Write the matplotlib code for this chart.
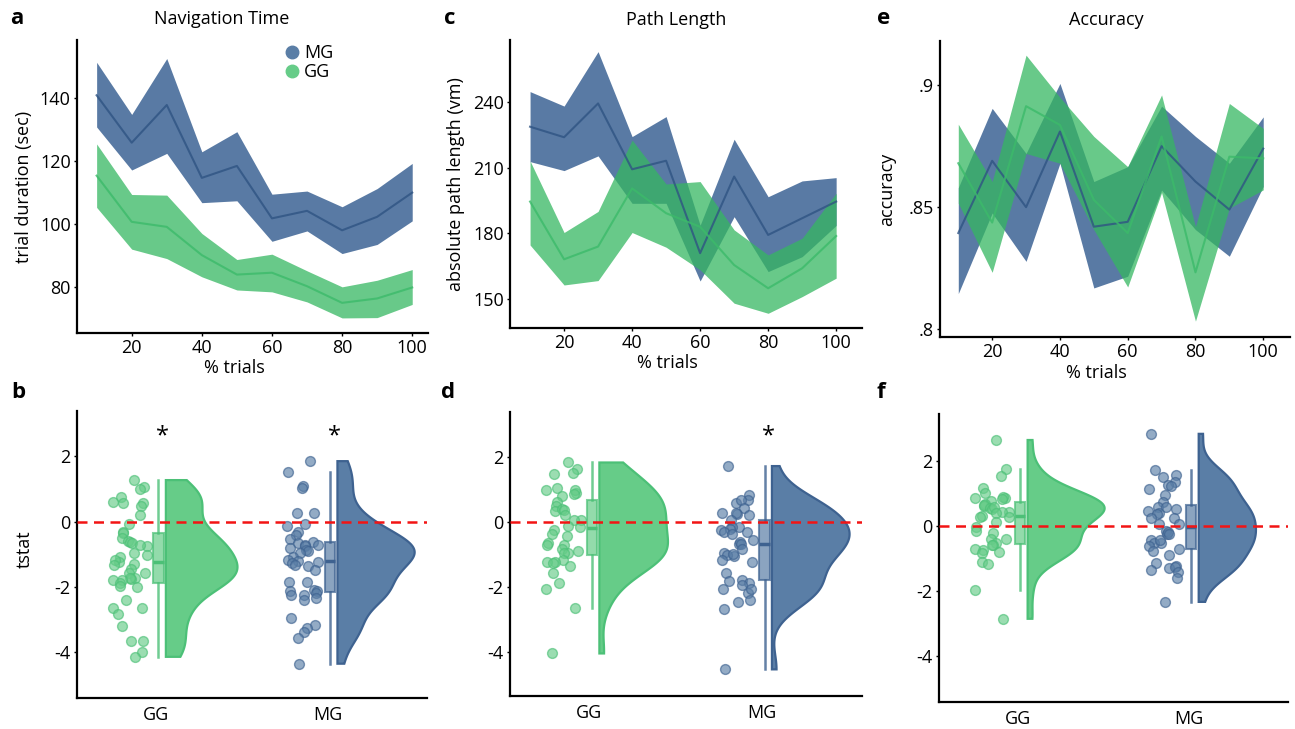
import numpy as np
import matplotlib.pyplot as plt
from matplotlib.lines import Line2D

plt.rcParams['font.family'] = ['Open Sans', 'DejaVu Sans']
plt.rcParams['axes.unicode_minus'] = False
plt.rcParams['font.size'] = 13

# ---- learning curves (mean and band edges) ----
trial_pct = [10, 20, 30, 40, 50, 60, 70, 80, 90, 100]

nav_mg_mean = [141, 125.9, 137.9, 114.7, 118.5, 101.8, 104.2, 98, 102.3, 110]
nav_mg_lo = [130.9, 117.2, 122.5, 106.8, 107.4, 94.5, 97.8, 90.6, 93.5, 101]
nav_mg_hi = [151.5, 134.9, 152.7, 123, 129.4, 109.5, 110.5, 105.5, 111.3, 119.3]
nav_gg_mean = [115.4, 100.7, 99.1, 90.1, 83.9, 84.5, 80.2, 74.9, 76.3, 79.8]
nav_gg_lo = [105.3, 92, 89, 83.2, 79, 78.4, 75.2, 70.1, 70.2, 74.4]
nav_gg_hi = [125.5, 109.4, 109.2, 97, 88.7, 90.4, 85.1, 80, 82.1, 85.5]

path_mg_mean = [228.6, 223.8, 239.2, 209.2, 213.1, 171, 205.9, 179.3, 186.9, 194.5]
path_mg_lo = [212.7, 208.6, 215.3, 193.7, 193.7, 158.3, 187.6, 162.6, 169.4, 183.6]
path_mg_hi = [244.6, 238, 262.8, 224.1, 233.2, 183.7, 222.9, 196.7, 203.9, 205.4]
path_gg_mean = [194.5, 168.2, 174, 200.5, 189.2, 183, 165.6, 155, 164.1, 178.8]
path_gg_lo = [174.7, 156.5, 158.5, 180.4, 173.7, 163.4, 148.2, 143.6, 151.2, 159.6]
path_gg_hi = [213, 180.4, 190, 222.5, 202.5, 203.6, 181.6, 170.2, 177.8, 198.3]

acc_mg_mean = [0.8394, 0.869, 0.85, 0.881, 0.842, 0.844, 0.875, 0.8605, 0.849, 0.874]
acc_mg_lo = [0.8146, 0.8476, 0.8278, 0.868, 0.8169, 0.8217, 0.857, 0.8408, 0.8299, 0.8585]
acc_mg_hi = [0.858, 0.8905, 0.872, 0.9007, 0.8605, 0.8666, 0.8914, 0.879, 0.868, 0.887]
acc_gg_mean = [0.868, 0.8437, 0.8914, 0.8837, 0.853, 0.8394, 0.879, 0.8233, 0.8707, 0.87]
acc_gg_lo = [0.8516, 0.8233, 0.872, 0.868, 0.8408, 0.8173, 0.856, 0.8033, 0.8496, 0.8571]
acc_gg_hi = [0.884, 0.8605, 0.9123, 0.895, 0.879, 0.8666, 0.896, 0.842, 0.8925, 0.8823]

# ---- per-subject t statistics ----
groups = ['GG', 'MG']

nav_gg_t = [1.27, 1.05, 0.99, 0.76, 0.58, 0.58, 0.61, 0.48, 0.2, -0.07, -0.31, -0.36,
            -0.49, -0.6, -0.64, -0.66, -0.74, -0.71, -0.97, -1.02, -1.09, -1.25, -1.29,
            -1.17, -1.32, -1.46, -1.58, -1.58, -1.73, -1.76, -1.73, -1.78, -1.78, -1.88,
            -1.99, -1.97, -2.41, -2.65, -2.65, -2.82, -3.21, -3.64, -3.64, -4.0, -4.14]
nav_mg_t = [1.85, 1.53, 1.09, 1.02, 0.25, 0.25, -0.07, -0.13, -0.33, -0.41, -0.53, -0.64,
            -0.66, -0.71, -0.73, -0.76, -0.87, -0.9, -0.81, -0.95, -1.07, -1.22, -1.19,
            -1.25, -1.27, -1.37, -1.32, -1.48, -1.85, -1.85, -2.09, -2.11, -2.19, -2.24,
            -2.14, -2.24, -2.34, -2.39, -2.95, -3.18, -3.26, -3.39, -3.56, -4.35]

path_gg_t = [1.83, 1.64, 1.51, 1.47, 1.03, 0.89, 0.99, 0.97, 0.87, 0.79, 0.62, 0.48,
             0.34, 0.41, 0.38, 0.21, 0.05, 0.07, -0.12, -0.15, -0.24, -0.36, -0.43, -0.64,
             -0.72, -0.72, -0.84, -0.9, -0.95, -0.95, -1.18, -1.23, -1.23, -1.26, -1.35,
             -1.57, -1.88, -2.08, -2.65, -4.05]
path_mg_t = [1.72, 0.82, 0.58, 0.69, 0.67, 0.43, 0.28, 0.24, 0.28, 0.21, 0.05, -0.15,
             -0.24, -0.15, -0.23, -0.31, -0.31, -0.38, -0.56, -0.67, -0.62, -0.69, -0.82,
             -0.95, -1.05, -1.03, -0.99, -1.18, -1.23, -1.57, -1.79, -1.82, -1.88, -1.95,
             -2.05, -2.18, -2.05, -2.41, -2.46, -2.67, -4.54]

acc_gg_t = [2.64, 1.74, 1.53, 1.15, 1.0, 0.87, 0.87, 0.89, 0.84, 0.77, 0.67, 0.61, 0.64,
            0.55, 0.53, 0.59, 0.43, 0.43, 0.38, 0.28, 0.3, 0.28, 0.12, -0.03, -0.15,
            -0.22, -0.42, -0.42, -0.52, -0.6, -0.6, -0.75, -0.7, -0.83, -0.8, -1.11,
            -1.18, -1.96, -2.86]
acc_mg_t = [2.83, 1.72, 1.56, 1.51, 1.36, 1.27, 1.22, 1.13, 0.95, 0.74, 0.53, 0.57, 0.59,
            0.46, 0.38, 0.36, 0.23, 0.23, 0.07, 0.07, -0.15, -0.26, -0.18, -0.24, -0.44,
            -0.54, -0.54, -0.44, -0.62, -0.7, -0.78, -0.9, -1.14, -1.24, -1.29, -1.35,
            -1.28, -1.42, -1.62, -2.34]

# ---- colours ----
MG_BAND = '#30598d'
GG_BAND = '#35b761'
MG_LINE = '#2f5483'
GG_LINE = '#3cba6a'
MG_FILL = '#5a7ea6'
GG_FILL = '#66cc88'
MG_EDGE = '#3e6290'
GG_EDGE = '#4cc077'

FIG_W, FIG_H = 1295, 729


def px_rect(x0, y0, x1, y1):
    return [x0 / FIG_W, 1 - y1 / FIG_H, (x1 - x0) / FIG_W, (y1 - y0) / FIG_H]


def style_axes(ax):
    for side in ['top', 'right']:
        ax.spines[side].set_visible(False)
    for side in ['left', 'bottom']:
        ax.spines[side].set_linewidth(1.6)
    ax.tick_params(length=2.5, width=1, labelsize=13, pad=2)


def curve_panel(ax, mg, gg, ylim, yticks, yticklabels, xlim, title, title_x, ylabel):
    ax.fill_between(trial_pct, mg[1], mg[2], color=MG_BAND, alpha=0.8, lw=0)
    ax.plot(trial_pct, mg[0], color=MG_LINE, lw=1.5, alpha=0.8)
    ax.fill_between(trial_pct, gg[1], gg[2], color=GG_BAND, alpha=0.75, lw=0)
    ax.plot(trial_pct, gg[0], color=GG_LINE, lw=1.5, alpha=0.8)
    ax.set_xlim(*xlim)
    ax.set_ylim(*ylim)
    ax.set_xticks([20, 40, 60, 80, 100])
    ax.set_yticks(yticks)
    ax.set_yticklabels(yticklabels)
    style_axes(ax)
    ax.text(title_x, 1.07, title, transform=ax.transAxes, ha='center', va='center',
            fontsize=13)
    ax.set_xlabel('% trials', fontsize=13)
    ax.xaxis.set_label_coords(0.447, -0.09)
    ax.set_ylabel(ylabel, fontsize=13, va='center')
    ax.yaxis.set_label_coords(-0.152, 0.5)


def nrd0(v):
    sd = np.std(v, ddof=1)
    q75, q25 = np.percentile(v, [75, 25])
    return 0.9 * min(sd, (q75 - q25) / 1.34) * len(v) ** (-0.2)


def raincloud_panel(ax, gg_vals, mg_vals, ylim, stars):
    rng = np.random.default_rng(7)
    sets = [(gg_vals, GG_FILL, GG_EDGE), (mg_vals, MG_FILL, MG_EDGE)]

    curves = []
    for vals, _, _ in sets:
        v = np.asarray(vals)
        grid = np.linspace(v.min(), v.max(), 300)
        bw = nrd0(v)
        dens = np.exp(-0.5 * ((grid[:, None] - v[None, :]) / bw) ** 2).sum(axis=1)
        dens /= len(v) * bw * np.sqrt(2 * np.pi)
        curves.append((grid, dens))
    scale = 0.45 / max(d.max() for _, d in curves)

    for i, ((vals, fill, edge), (grid, dens)) in enumerate(zip(sets, curves)):
        v = np.asarray(vals)
        # rain
        jitter = rng.uniform(-0.1, 0.1, len(v))
        ax.scatter(i - 0.15 + jitter, v, s=50, facecolor=fill, edgecolor=edge,
                   alpha=0.65, lw=1, zorder=2)
        # box
        ax.boxplot([v], positions=[i + 0.015], widths=0.06, patch_artist=True,
                   showfliers=False, showcaps=False, whis=1.5, manage_ticks=False,
                   boxprops=dict(facecolor=fill, edgecolor=edge, lw=1.5, alpha=0.7),
                   whiskerprops=dict(color=edge, lw=1.8, alpha=0.8),
                   medianprops=dict(color=edge, lw=2.5), zorder=3)
        # cloud
        base = i + 0.058
        xs = np.concatenate([[base], base + dens * scale, [base]])
        ys = np.concatenate([[grid[0]], grid, [grid[-1]]])
        ax.fill(xs, ys, facecolor=fill, edgecolor=edge, lw=1.6, zorder=3)

    ax.axhline(0, color='#f21414', lw=1.8, ls=(0, (4, 2.6)), zorder=5)
    for i, s in enumerate(stars):
        if s:
            ax.text(i + 0.04, 2.62, '*', ha='center', va='center', fontsize=17)

    ax.set_ylim(*ylim)
    ax.set_xlim(-0.46, 1.58)
    ax.set_xticks([0, 1])
    ax.set_xticklabels(groups)
    ax.set_yticks([-4, -2, 0, 2])
    ax.set_yticklabels(['-4', '-2', '0', '2'])
    style_axes(ax)
    ax.tick_params(axis='x', length=0, pad=6)


fig = plt.figure(figsize=(FIG_W / 100, FIG_H / 100), dpi=100)

ax_a = fig.add_axes(px_rect(77, 40, 428, 333))
ax_c = fig.add_axes(px_rect(510, 40, 862, 328))
ax_e = fig.add_axes(px_rect(940, 41, 1290, 337))
ax_b = fig.add_axes(px_rect(77, 411, 427, 698))
ax_d = fig.add_axes(px_rect(510, 412, 862, 696))
ax_f = fig.add_axes(px_rect(939, 414, 1288, 702))

curve_panel(ax_a, (nav_mg_mean, nav_mg_lo, nav_mg_hi), (nav_gg_mean, nav_gg_lo, nav_gg_hi),
            (65.3, 158.6), [80, 100, 120, 140], ['80', '100', '120', '140'], (4.4, 104.5),
            'Navigation Time', 0.413, 'trial duration (sec)')
curve_panel(ax_c, (path_mg_mean, path_mg_lo, path_mg_hi),
            (path_gg_mean, path_gg_lo, path_gg_hi),
            (136.9, 268.1), [150, 180, 210, 240], ['150', '180', '210', '240'],
            (4.1, 107.6), 'Path Length', 0.472, 'absolute path length (vm)')
curve_panel(ax_e, (acc_mg_mean, acc_mg_lo, acc_mg_hi), (acc_gg_mean, acc_gg_lo, acc_gg_hi),
            (0.7968, 0.9181), [0.8, 0.85, 0.9], ['.8', '.85', '.9'], (4.6, 107.9),
            'Accuracy', 0.474, 'accuracy')

legend_handles = [
    Line2D([], [], ls='', marker='o', markersize=9, color=MG_FILL, label='MG'),
    Line2D([], [], ls='', marker='o', markersize=9, color=GG_FILL, label='GG'),
]
ax_a.legend(handles=legend_handles, loc='upper left', bbox_to_anchor=(0.56, 1.01),
            frameon=False, fontsize=13, handletextpad=0.1, labelspacing=0.05,
            borderaxespad=0, handlelength=1.2)

raincloud_panel(ax_b, nav_gg_t, nav_mg_t, (-5.4, 3.385), [True, True])
raincloud_panel(ax_d, path_gg_t, path_mg_t, (-5.36, 3.385), [False, True])
raincloud_panel(ax_f, acc_gg_t, acc_mg_t, (-5.42, 3.44), [False, False])
ax_b.set_ylabel('tstat', fontsize=13, va='center')
ax_b.yaxis.set_label_coords(-0.148, 0.52)

for letter, (x, y) in zip('acebdf', [(17, 18), (450, 18), (884, 18),
                                      (18, 393), (448, 393), (881, 393)]):
    fig.text(x / FIG_W, 1 - y / FIG_H, letter, ha='center', va='center',
             fontsize=16, fontweight='bold')

fig.savefig('out.png', dpi=100)
plt.close(fig)
